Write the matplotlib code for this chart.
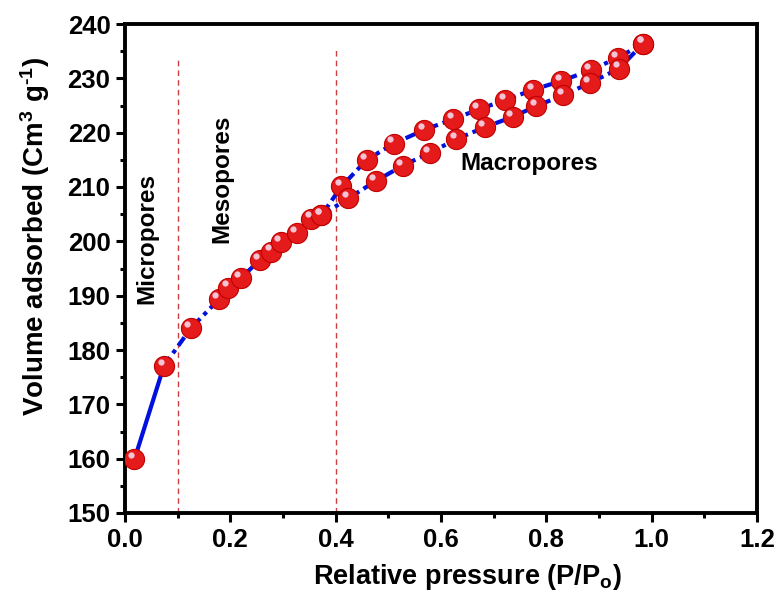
import matplotlib
matplotlib.use("Agg")
import matplotlib.pyplot as plt
from matplotlib.ticker import MultipleLocator
from matplotlib.transforms import offset_copy

# ---- data ----
ads_x = [0.018, 0.074, 0.125, 0.178, 0.196, 0.220, 0.256, 0.278, 0.296, 0.326,
         0.354, 0.373, 0.424, 0.476, 0.527, 0.579, 0.629, 0.683, 0.736, 0.781,
         0.832, 0.882, 0.938, 0.984]
ads_y = [159.9, 177.1, 184.0, 189.3, 191.5, 193.2, 196.6, 198.1, 199.9, 201.5,
         204.2, 204.8, 207.9, 211.1, 213.9, 216.3, 218.8, 221.0, 222.9, 224.9,
         226.9, 229.1, 231.8, 236.4]
des_x = [0.984, 0.936, 0.884, 0.828, 0.775, 0.722, 0.672, 0.623, 0.568, 0.510,
         0.459, 0.411, 0.373]
des_y = [236.4, 233.8, 231.5, 229.5, 227.9, 226.0, 224.3, 222.5, 220.5, 218.0,
         215.0, 210.1, 204.8]

region_x = [0.1, 0.4]
region_top = [233.9, 235.8]
region_labels = ["Micropores", "Mesopores", "Macropores"]

x_ticks = [0.0, 0.2, 0.4, 0.6, 0.8, 1.0, 1.2]
y_ticks = [150, 160, 170, 180, 190, 200, 210, 220, 230, 240]

plt.rcParams['font.family'] = ['Liberation Sans', 'DejaVu Sans']
plt.rcParams['font.weight'] = 'bold'
plt.rcParams['mathtext.fontset'] = 'custom'
plt.rcParams['mathtext.rm'] = 'Liberation Sans'
plt.rcParams['mathtext.bf'] = 'Liberation Sans:bold'
plt.rcParams['mathtext.default'] = 'rm'

fig = plt.figure(figsize=(7.77, 5.98), dpi=100)
ax = fig.add_axes([125/777, 1-513/598, (757-125)/777, (513-24)/598])

blue = '#0010dd'
dashdot = (0, (2.5, 1.2, 1.0, 1.2))

# region separators
ax.vlines(region_x, 150, region_top, colors='#c84040', linestyles=(0, (4, 3)),
          linewidth=1.0, zorder=1)

# lines
ax.plot(ads_x[:2], ads_y[:2], '-', color=blue, lw=3, zorder=2)
ax.plot(ads_x[1:], ads_y[1:], linestyle=dashdot, color=blue, lw=3, zorder=2)
ax.plot(des_x, des_y, linestyle=dashdot, color=blue, lw=3, zorder=2)

# spherical-looking markers
hl = offset_copy(ax.transData, fig=fig, x=-2.5, y=3.0, units='points')
for xs, ys in [(des_x, des_y), (ads_x, ads_y)]:
    ax.plot(xs, ys, 'o', ms=14.5, mfc='#e51a1a', mec='#c00000', mew=0.8,
            linestyle='none', zorder=3)
    ax.plot(xs, ys, 'o', ms=4.5, mfc='#f4c4d4', mec='none',
            linestyle='none', zorder=4, transform=hl)

# annotations
ax.text(0.042, 200.5, region_labels[0], rotation=90, ha='center', va='center',
        fontsize=17.5, fontweight='bold')
ax.text(0.184, 211.5, region_labels[1], rotation=90, ha='center', va='center',
        fontsize=17.5, fontweight='bold')
ax.text(0.768, 214.4, region_labels[2], ha='center', va='center',
        fontsize=17.5, fontweight='bold')

ax.set_xlim(0, 1.2)
ax.set_ylim(150, 240)
ax.set_xticks(x_ticks)
ax.set_yticks(y_ticks)
ax.set_xticklabels([f"{v:.1f}" for v in x_ticks])
ax.set_yticklabels([str(v) for v in y_ticks])
ax.xaxis.set_minor_locator(MultipleLocator(0.1))
ax.yaxis.set_minor_locator(MultipleLocator(5))
ax.tick_params(which='major', direction='out', length=6.5, width=2.2,
               labelsize=18.5, pad=4)
ax.tick_params(which='minor', direction='out', length=3.5, width=2.2)
for lab in ax.get_xticklabels() + ax.get_yticklabels():
    lab.set_fontweight('bold')
for s in ax.spines.values():
    s.set_linewidth(2.8)

ax.set_xlabel(r"Relative pressure (P/P$_{\mathbf{o}}$)", fontsize=19.5,
              fontweight='bold')
ax.set_ylabel(r"Volume adsorbed (Cm$^{3}$ g$^{\text{-}1}$)", fontsize=20,
              fontweight='bold')
ax.xaxis.set_label_coords((467-125)/632, (513-584)/489)
ax.yaxis.set_label_coords((35-125)/632, (513-236)/489)
ax.xaxis.label.set_va('baseline')
ax.yaxis.label.set_va('center')

fig.savefig("out.png", dpi=100)
